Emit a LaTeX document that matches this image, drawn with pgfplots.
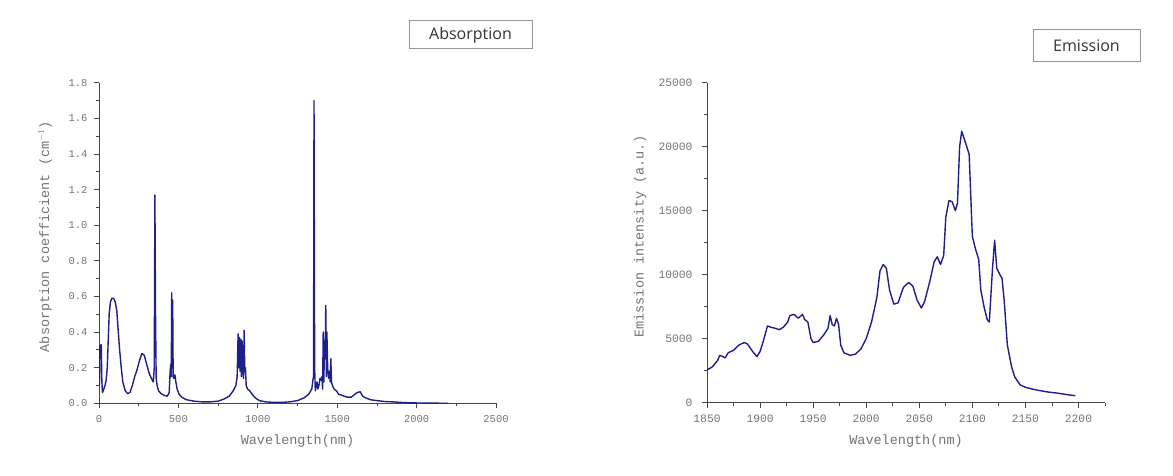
\documentclass[border=0pt]{standalone}
\usepackage{pgfplots}
\pgfplotsset{compat=1.18}
\usepackage{fontspec}
\setmainfont{Liberation Mono}
\newfontfamily\titlefont{Open Sans}
\definecolor{curve}{RGB}{30,30,140}
\definecolor{axgray}{RGB}{70,70,70}
\definecolor{txtgray}{RGB}{115,115,115}
\definecolor{boxgray}{RGB}{150,150,150}
\pgfplotsset{myaxis/.style={
  scale only axis, axis lines=left, axis line style={-, axgray, line width=1pt},
  tick align=outside, major tick length=5pt, minor tick length=3pt,
  tick style={axgray, line width=0.8pt},
  label style={font=\fontsize{13.5}{13.5}\selectfont, text=txtgray},
  /pgf/number format/assume math mode=true,
  /pgf/number format/1000 sep={},
  scaled ticks=false,
  enlargelimits=false,
  xticklabel style={yshift=-4pt},
}}
\begin{document}
\begin{tikzpicture}[x=1pt,y=1pt]
\path[use as bounding box] (0,0) rectangle (1173,475);
% Absorption
\begin{axis}[myaxis, at={(99pt,71.7pt)}, anchor=origin,
  width=397pt, height=320.6pt,
  xmin=0, xmax=2500, ymin=0, ymax=1.8,
  xtick={0,500,...,2500}, minor xtick={250,750,...,2250},
  ytick={0,0.2,...,1.8}, minor ytick={0.1,0.3,...,1.7},
  tick label style={font=\fontsize{10.5}{10.5}\selectfont, text=txtgray},
  yticklabel style={xshift=-3pt, /pgf/number format/.cd, fixed, fixed zerofill, precision=1},
  xlabel={Wavelength(nm)}, ylabel={Absorption coefficient (cm$^{-1}$)},
  xlabel style={at={(axis description cs:0.5,0)}, anchor=center, yshift=-38pt},
  ylabel style={at={(axis description cs:-0.136,0.52)}, anchor=center},
]
\addplot[curve, line width=1.4pt, line join=round] coordinates {
(3,0.10) (6,0.32) (14,0.33) (18,0.12) (22,0.06) (30,0.08) (38,0.10) (45,0.13) (52,0.20) (58,0.35) (64,0.50) (72,0.57) (82,0.59) (92,0.59) (102,0.57) (112,0.52) (120,0.42) (130,0.30) (140,0.20) (150,0.12) (165,0.07) (180,0.055) (195,0.06) (210,0.10) (225,0.15) (240,0.19) (255,0.24) (270,0.28) (285,0.27) (300,0.22) (315,0.17) (330,0.14) (342,0.12) (348,0.2) (352,1.17) (356,0.5) (360,0.14) (366,0.10) (375,0.07) (390,0.055) (410,0.045) (430,0.04) (442,0.06) (448,0.18) (452,0.22) (455,0.15) (458,0.62) (461,0.2) (464,0.58) (467,0.15) (472,0.14) (478,0.16) (484,0.12) (492,0.08) (505,0.05) (520,0.035) (550,0.02) (600,0.012) (650,0.008) (700,0.008) (750,0.012) (790,0.025) (820,0.04) (845,0.07) (862,0.10) (870,0.15) (876,0.39) (880,0.2) (884,0.37) (888,0.18) (893,0.36) (897,0.15) (901,0.35) (905,0.2) (910,0.14) (914,0.41) (918,0.18) (922,0.2) (927,0.1) (935,0.08) (950,0.07) (965,0.05) (985,0.03) (1010,0.015) (1050,0.008) (1100,0.005) (1150,0.005) (1200,0.008) (1250,0.015) (1290,0.03) (1320,0.05) (1340,0.08) (1347,0.13) (1351,0.15) (1354,1.70) (1358,0.2) (1362,0.07) (1368,0.10) (1373,0.12) (1378,0.08) (1385,0.10) (1392,0.14) (1398,0.13) (1404,0.15) (1408,0.08) (1412,0.40) (1416,0.12) (1420,0.35) (1424,0.25) (1428,0.55) (1432,0.15) (1435,0.40) (1440,0.2) (1446,0.14) (1452,0.18) (1456,0.12) (1460,0.25) (1464,0.12) (1470,0.10) (1480,0.08) (1495,0.07) (1510,0.05) (1530,0.045) (1560,0.035) (1590,0.035) (1610,0.05) (1625,0.06) (1645,0.065) (1660,0.04) (1680,0.03) (1710,0.02) (1750,0.015) (1800,0.01) (1850,0.008) (1900,0.005) (1950,0.003) (2000,0.002) (2100,0.001) (2200,0.0)
};
\end{axis}
% Emission
\begin{axis}[myaxis, at={(707pt,72.3pt)}, anchor=origin,
  width=398pt, height=320pt,
  xmin=1850, xmax=2225, ymin=0, ymax=25000,
  xtick={1850,1900,...,2200}, minor xtick={1875,1925,...,2225},
  ytick={0,5000,...,25000}, minor ytick={2500,7500,...,22500},
  tick label style={font=\fontsize{11.3}{11.3}\selectfont, text=txtgray},
  yticklabel style={xshift=-6pt},
  xlabel={Wavelength(nm)}, ylabel={Emission intensity (a.u.)},
  xlabel style={at={(axis description cs:0.5,0)}, anchor=center, yshift=-38pt},
  ylabel style={at={(axis description cs:-0.168,0.52)}, anchor=center},
]
\addplot[curve, line width=1.4pt, line join=round] coordinates {
(1850,2550) (1855,2800) (1860,3300) (1862,3700) (1865,3600) (1867,3500) (1870,3900) (1875,4100) (1880,4500) (1885,4700) (1888,4600) (1893,4000) (1897,3600) (1900,4000) (1903,4800) (1907,6000) (1910,5900) (1915,5800) (1918,5700) (1922,5900) (1926,6300) (1928,6800) (1932,6900) (1936,6600) (1940,6900) (1942,6500) (1945,6300) (1948,5000) (1950,4700) (1955,4800) (1960,5300) (1964,5800) (1966,6800) (1968,6100) (1970,6000) (1972,6600) (1974,6100) (1976,4500) (1979,3900) (1985,3700) (1990,3800) (1995,4200) (2000,5000) (2005,6300) (2010,8200) (2013,10300) (2016,10800) (2019,10500) (2022,8800) (2026,7700) (2030,7800) (2035,9000) (2040,9400) (2044,9100) (2048,8000) (2052,7400) (2055,7900) (2060,9500) (2064,11000) (2067,11400) (2070,10800) (2073,11500) (2075,14500) (2078,15800) (2081,15700) (2084,15000) (2086,15600) (2088,20000) (2090,21200) (2092,20700) (2094,20200) (2097,19400) (2100,13000) (2103,12000) (2106,11200) (2108,8800) (2111,7500) (2114,6500) (2116,6300) (2119,10500) (2121,12700) (2123,10500) (2126,10000) (2128,9700) (2130,8000) (2133,4500) (2137,2800) (2140,2000) (2145,1400) (2150,1200) (2160,1000) (2170,850) (2180,750) (2190,620) (2197,550)
};
\end{axis}
\node[draw=boxgray, line width=1pt, minimum width=123pt, minimum height=28pt, inner sep=0pt, text=black!80, font=\titlefont\fontsize{16}{16}\selectfont] at (470.5,440) {Absorption};
\node[draw=boxgray, line width=1pt, minimum width=107pt, minimum height=32pt, inner sep=0pt, text=black!80, font=\titlefont\fontsize{16}{16}\selectfont] at (1086.5,429) {Emission};
\end{tikzpicture}
\end{document}
